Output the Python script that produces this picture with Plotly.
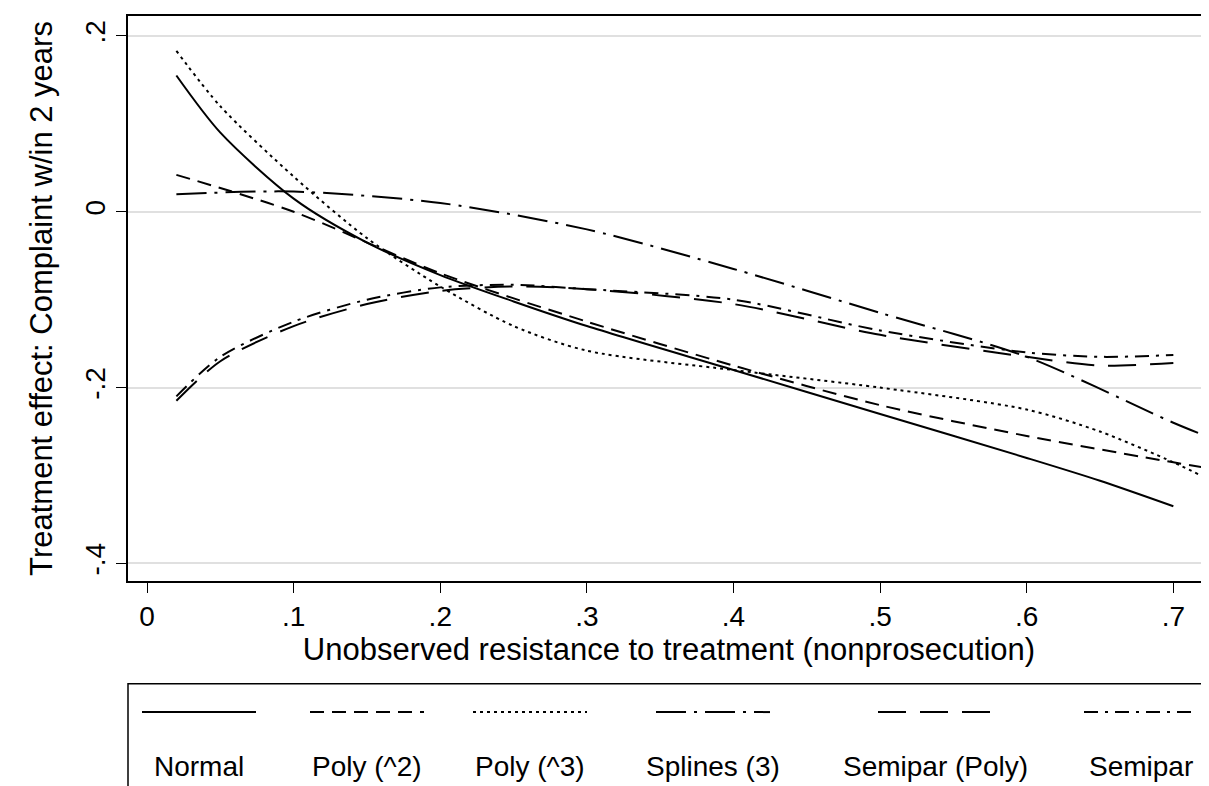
import plotly.graph_objects as go

x_pts = [0.02, 0.05, 0.1, 0.15, 0.2, 0.25, 0.3, 0.4, 0.5, 0.6, 0.65, 0.7]
normal = [0.155, 0.09, 0.015, -0.035, -0.072, -0.102, -0.13, -0.18, -0.23, -0.28, -0.306, -0.335]
poly2x = [0.02, 0.1, 0.2, 0.3, 0.4, 0.5, 0.6, 0.7, 0.725]
poly2 = [0.042, 0.0, -0.07, -0.125, -0.175, -0.22, -0.255, -0.285, -0.292]
poly3x = [0.02, 0.05, 0.1, 0.15, 0.2, 0.25, 0.3, 0.4, 0.5, 0.6, 0.65, 0.7, 0.725]
poly3 = [0.183, 0.12, 0.04, -0.03, -0.085, -0.13, -0.158, -0.18, -0.2, -0.225, -0.25, -0.285, -0.305]
splx = [0.02, 0.1, 0.2, 0.3, 0.4, 0.5, 0.6, 0.7, 0.725]
spl = [0.02, 0.023, 0.01, -0.02, -0.065, -0.115, -0.165, -0.24, -0.257]
sppoly = [-0.215, -0.17, -0.13, -0.105, -0.09, -0.085, -0.088, -0.105, -0.14, -0.165, -0.175, -0.172]
sp = [-0.21, -0.165, -0.125, -0.1, -0.086, -0.083, -0.088, -0.1, -0.135, -0.16, -0.165, -0.163]
names = ["Normal", "Poly (^2)", "Poly (^3)", "Splines (3)", "Semipar (Poly)", "Semipar"]
dashes = ["solid", "14px,8px", "3px,4px", "30px,8px,3px,8px", "28px,14px", "14px,7px,3px,7px"]
series = [(x_pts, normal), (poly2x, poly2), (poly3x, poly3), (splx, spl), (x_pts, sppoly), (x_pts, sp)]

fig = go.Figure()
for (xs, ys), n, d in zip(series, names, dashes):
    fig.add_trace(go.Scatter(x=xs, y=ys, mode="lines", name=n, showlegend=False,
                             line=dict(color="black", width=2, dash=d, shape="spline", smoothing=0.8)))

FAM = "Liberation Sans, Arial"
F = dict(family=FAM, size=31, color="black")
TF = dict(family=FAM, size=28, color="black")
LF = dict(family=FAM, size=28, color="black")
fig.update_layout(width=1209, height=786, margin=dict(l=120, r=7, t=8, b=213),
                  plot_bgcolor="white", paper_bgcolor="white", font=F,
                  xaxis=dict(range=[-0.013, 0.725], tickvals=[0, .1, .2, .3, .4, .5, .6, .7],
                             ticktext=["0", ".1", ".2", ".3", ".4", ".5", ".6", ".7"], automargin=False,
                             tickfont=TF, showgrid=False, zeroline=False, showline=True, linecolor="black", mirror=True,
                             ticks="outside", ticklen=10, tickcolor="black", linewidth=1.5,
                             title=dict(text="Unobserved resistance to treatment (nonprosecution)", standoff=2, font=F)),
                  yaxis=dict(range=[-0.42, 0.2227], tickvals=[-.4, -.2, 0, .2], ticktext=["-.4", "-.2", "0", ".2"],
                             tickfont=TF, tickangle=-90, showgrid=True, gridcolor="#e0e0e0", gridwidth=2, zeroline=False,
                             automargin=False, showline=True, linecolor="black", mirror=True, ticks="outside", ticklen=10,
                             tickcolor="black", linewidth=1.5,
                             title=dict(text="Treatment effect: Complaint w/in 2 years", standoff=18, font=F)))

fig.add_shape(type="rect", xref="paper", yref="paper", x0=0, x1=1.01, y0=-0.4, y1=-0.182,
              line=dict(color="black", width=1.5), fillcolor="white")
centers = [198, 366, 529, 712, 934, 1140]
for c, n, d in zip(centers, names, dashes):
    xc = (c - 127) / 1082
    half = 57 / 1082
    fig.add_shape(type="line", xref="paper", yref="paper", x0=xc - half, x1=xc + half,
                  y0=-0.232, y1=-0.232, line=dict(color="black", width=2, dash=d))
    fig.add_annotation(xref="paper", yref="paper", x=xc, y=-0.328, text=n, showarrow=False,
                       xanchor="center", yanchor="middle", font=LF)

fig.write_html("out.html")
